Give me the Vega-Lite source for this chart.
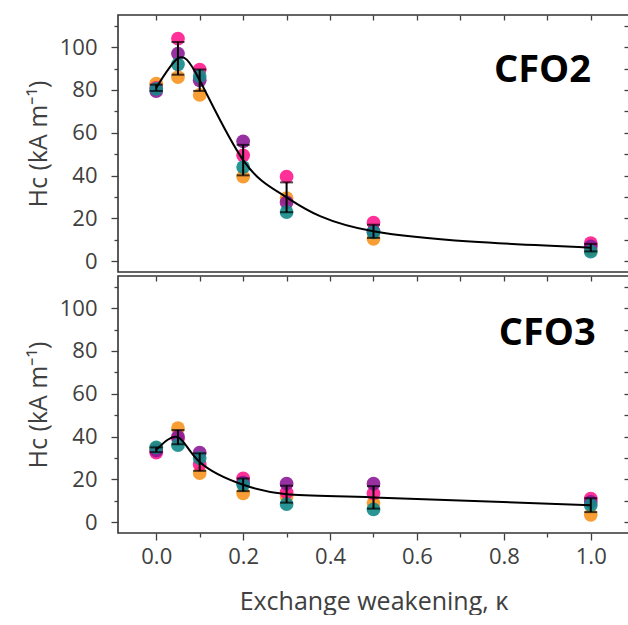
{
  "$schema": "https://vega.github.io/schema/vega-lite/v6.json",
  "padding": {"left": 25, "top": 13, "right": 1, "bottom": 0},
  "spacing": 0,
  "config": {
    "view": {"stroke": "#333333", "strokeWidth": 1.6},
    "axis": {"labelFont": "Open Sans", "titleFont": "Open Sans", "labelColor": "#404040", "titleColor": "#404040", "tickColor": "#404040", "labelFontSize": 22, "titleFontSize": 25, "titleFontWeight": "normal", "tickWidth": 1.3, "grid": false, "domain": false}
  },
  "datasets": {
    "cfo2": [
      {"k": 0, "sample": "a", "Hc": 83}, {"k": 0, "sample": "b", "Hc": 81}, {"k": 0, "sample": "c", "Hc": 79.5}, {"k": 0, "sample": "d", "Hc": 80.5},
      {"k": 0.05, "sample": "a", "Hc": 86}, {"k": 0.05, "sample": "b", "Hc": 104}, {"k": 0.05, "sample": "c", "Hc": 97}, {"k": 0.05, "sample": "d", "Hc": 92},
      {"k": 0.1, "sample": "a", "Hc": 77.7}, {"k": 0.1, "sample": "b", "Hc": 89.5}, {"k": 0.1, "sample": "c", "Hc": 84.5}, {"k": 0.1, "sample": "d", "Hc": 86.5},
      {"k": 0.2, "sample": "a", "Hc": 39.5}, {"k": 0.2, "sample": "b", "Hc": 49.5}, {"k": 0.2, "sample": "c", "Hc": 56}, {"k": 0.2, "sample": "d", "Hc": 44},
      {"k": 0.3, "sample": "a", "Hc": 29.5}, {"k": 0.3, "sample": "b", "Hc": 39.5}, {"k": 0.3, "sample": "c", "Hc": 27.5}, {"k": 0.3, "sample": "d", "Hc": 23},
      {"k": 0.5, "sample": "a", "Hc": 10.5}, {"k": 0.5, "sample": "b", "Hc": 18}, {"k": 0.5, "sample": "c", "Hc": 14}, {"k": 0.5, "sample": "d", "Hc": 13.5},
      {"k": 1.0, "sample": "a", "Hc": 5.5}, {"k": 1.0, "sample": "b", "Hc": 8.5}, {"k": 1.0, "sample": "c", "Hc": 7}, {"k": 1.0, "sample": "d", "Hc": 4.5}
    ],
    "cfo3": [
      {"k": 0, "sample": "a", "Hc": 34.5}, {"k": 0, "sample": "b", "Hc": 32.5}, {"k": 0, "sample": "c", "Hc": 33.5}, {"k": 0, "sample": "d", "Hc": 35},
      {"k": 0.05, "sample": "a", "Hc": 44}, {"k": 0.05, "sample": "b", "Hc": 39}, {"k": 0.05, "sample": "c", "Hc": 40}, {"k": 0.05, "sample": "d", "Hc": 36},
      {"k": 0.1, "sample": "a", "Hc": 23}, {"k": 0.1, "sample": "b", "Hc": 27}, {"k": 0.1, "sample": "c", "Hc": 32.5}, {"k": 0.1, "sample": "d", "Hc": 30},
      {"k": 0.2, "sample": "a", "Hc": 13.5}, {"k": 0.2, "sample": "b", "Hc": 20.5}, {"k": 0.2, "sample": "c", "Hc": 18.5}, {"k": 0.2, "sample": "d", "Hc": 17.5},
      {"k": 0.3, "sample": "a", "Hc": 12}, {"k": 0.3, "sample": "b", "Hc": 14}, {"k": 0.3, "sample": "c", "Hc": 18}, {"k": 0.3, "sample": "d", "Hc": 8.5},
      {"k": 0.5, "sample": "a", "Hc": 9}, {"k": 0.5, "sample": "b", "Hc": 13.5}, {"k": 0.5, "sample": "c", "Hc": 18}, {"k": 0.5, "sample": "d", "Hc": 6},
      {"k": 1.0, "sample": "a", "Hc": 3.5}, {"k": 1.0, "sample": "b", "Hc": 11}, {"k": 1.0, "sample": "c", "Hc": 9.5}, {"k": 1.0, "sample": "d", "Hc": 8}
    ]
  },
  "vconcat": [
    {
      "width": 511, "height": 257,
      "data": {"name": "cfo2"},
      "layer": [
        {
          "mark": {"type": "circle", "size": 190, "opacity": 0.9},
          "encoding": {
            "x": {"field": "k", "type": "quantitative", "scale": {"domain": [-0.088, 1.088], "nice": false, "zero": false}, "axis": null},
            "y": {"field": "Hc", "type": "quantitative", "scale": {"domain": [-5, 115], "nice": false, "zero": false},
              "axis": {"values": [0, 10, 20, 30, 40, 50, 60, 70, 80, 90, 100, 110], "labelExpr": "datum.value % 20 === 0 ? datum.label : ''", "tickSize": {"condition": {"test": "datum.value % 20 === 0", "value": 7}, "value": 4}, "labelPadding": 14, "title": "Hc (kA m⁻¹)", "titlePadding": 8}},
            "color": {"field": "sample", "type": "nominal", "scale": {"domain": ["a", "b", "c", "d"], "range": ["#F7931E", "#FF1A8C", "#8C1A96", "#138A8A"]}, "legend": null}
          }
        },
        {
          "mark": {"type": "line", "interpolate": "natural", "color": "black", "strokeWidth": 2},
          "encoding": {
            "x": {"field": "k", "type": "quantitative", "axis": {"orient": "top", "values": [0, 0.1, 0.2, 0.3, 0.4, 0.5, 0.6, 0.7, 0.8, 0.9, 1.0], "labels": false, "tickSize": -5, "title": null}},
            "y": {"aggregate": "mean", "field": "Hc", "type": "quantitative", "axis": {"orient": "right", "values": [0, 10, 20, 30, 40, 50, 60, 70, 80, 90, 100, 110], "labels": false, "tickSize": -5, "title": null}}
          }
        },
        {
          "mark": {"type": "errorbar", "extent": "stdev", "orient": "vertical", "color": "black", "ticks": {"size": 13, "thickness": 2}, "rule": {"strokeWidth": 2}},
          "encoding": {
            "x": {"field": "k", "type": "quantitative", "axis": null},
            "y": {"field": "Hc", "type": "quantitative", "axis": null}
          }
        },
        {
          "data": {"values": [{"label": "CFO2"}]},
          "mark": {"type": "text", "font": "Open Sans", "fontSize": 38, "fontWeight": "bold", "color": "black"},
          "encoding": {
            "text": {"field": "label"},
            "x": {"datum": 0.889, "type": "quantitative", "axis": null},
            "y": {"datum": 89, "type": "quantitative", "axis": null}
          }
        }
      ],
      "resolve": {"axis": {"x": "independent", "y": "independent"}}
    },
    {
      "width": 511, "height": 257,
      "data": {"name": "cfo3"},
      "layer": [
        {
          "mark": {"type": "circle", "size": 190, "opacity": 0.9},
          "encoding": {
            "x": {"field": "k", "type": "quantitative", "scale": {"domain": [-0.088, 1.088], "nice": false, "zero": false},
              "axis": {"values": [0, 0.1, 0.2, 0.3, 0.4, 0.5, 0.6, 0.7, 0.8, 0.9, 1.0], "labelExpr": "round(datum.value*10) % 2 === 0 ? format(datum.value, '.1f') : ''", "tickSize": {"condition": {"test": "round(datum.value*10) % 2 === 0", "value": 7}, "value": 4}, "labelPadding": 6, "title": "Exchange weakening, κ", "titlePadding": 22}},
            "y": {"field": "Hc", "type": "quantitative", "scale": {"domain": [-5, 115], "nice": false, "zero": false},
              "axis": {"values": [0, 10, 20, 30, 40, 50, 60, 70, 80, 90, 100, 110], "labelExpr": "datum.value % 20 === 0 ? datum.label : ''", "tickSize": {"condition": {"test": "datum.value % 20 === 0", "value": 7}, "value": 4}, "labelPadding": 14, "title": "Hc (kA m⁻¹)", "titlePadding": 8}},
            "color": {"field": "sample", "type": "nominal", "scale": {"domain": ["a", "b", "c", "d"], "range": ["#F7931E", "#FF1A8C", "#8C1A96", "#138A8A"]}, "legend": null}
          }
        },
        {
          "mark": {"type": "line", "interpolate": "natural", "color": "black", "strokeWidth": 2},
          "encoding": {
            "x": {"field": "k", "type": "quantitative", "axis": {"orient": "top", "values": [0, 0.1, 0.2, 0.3, 0.4, 0.5, 0.6, 0.7, 0.8, 0.9, 1.0], "labels": false, "tickSize": -5, "title": null}},
            "y": {"aggregate": "mean", "field": "Hc", "type": "quantitative", "axis": {"orient": "right", "values": [0, 10, 20, 30, 40, 50, 60, 70, 80, 90, 100, 110], "labels": false, "tickSize": -5, "title": null}}
          }
        },
        {
          "mark": {"type": "errorbar", "extent": "stdev", "orient": "vertical", "color": "black", "ticks": {"size": 13, "thickness": 2}, "rule": {"strokeWidth": 2}},
          "encoding": {
            "x": {"field": "k", "type": "quantitative", "axis": null},
            "y": {"field": "Hc", "type": "quantitative", "axis": null}
          }
        },
        {
          "data": {"values": [{"label": "CFO3"}]},
          "mark": {"type": "text", "font": "Open Sans", "fontSize": 38, "fontWeight": "bold", "color": "black"},
          "encoding": {
            "text": {"field": "label"},
            "x": {"datum": 0.9, "type": "quantitative", "axis": null},
            "y": {"datum": 88, "type": "quantitative", "axis": null}
          }
        }
      ],
      "resolve": {"axis": {"x": "independent", "y": "independent"}}
    }
  ]
}
